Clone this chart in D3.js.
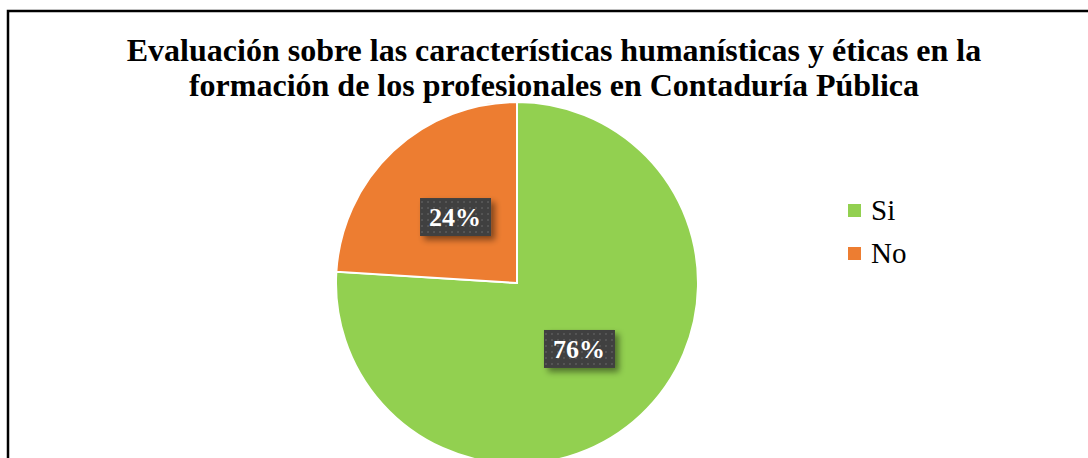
<!DOCTYPE html>
<html>
<head>
<meta charset="utf-8">
<script src="https://cdn.jsdelivr.net/npm/d3@7"></script>
<style>
  body { margin: 0; background: #fff; }
  svg { display: block; }
</style>
</head>
<body>
<div id="chart"></div>
<script>
var categories = ["Si", "No"];
var values = [76, 24];
var labels = ["76%", "24%"];
var titleLines = [
  "Evaluación sobre las características humanísticas y éticas en la",
  "formación de los profesionales en Contaduría Pública"
];

var width = 1088, height = 458;
var cx = 517, cy = 283, radius = 181;
var serif = "'Liberation Serif', 'Times New Roman', serif";

var color = d3.scaleOrdinal()
  .domain(categories)
  .range(["#92D050", "#ED7D31"]);

var svg = d3.select("#chart")
  .append("svg")
    .attr("width", width)
    .attr("height", height);

var defs = svg.append("defs");

// dotted texture used by the label boxes
var pat = defs.append("pattern")
  .attr("id", "dots")
  .attr("width", 6)
  .attr("height", 6)
  .attr("patternUnits", "userSpaceOnUse");
pat.append("rect").attr("width", 6).attr("height", 6).attr("fill", "#404040");
pat.append("rect").attr("x", 2).attr("y", 2).attr("width", 2).attr("height", 2).attr("fill", "#555");

var shadow = defs.append("filter")
  .attr("id", "shadow")
  .attr("x", "-30%").attr("y", "-30%")
  .attr("width", "170%").attr("height", "170%");
shadow.append("feDropShadow")
  .attr("dx", 4).attr("dy", 4)
  .attr("stdDeviation", 3)
  .attr("flood-color", "#000")
  .attr("flood-opacity", 0.45);

// outer frame
svg.append("rect")
  .attr("x", 8)
  .attr("y", 11)
  .attr("width", 1100)
  .attr("height", 470)
  .attr("fill", "none")
  .attr("stroke", "#000")
  .attr("stroke-width", 2.5);

// title
svg.append("g")
  .selectAll("text")
  .data(titleLines)
  .join("text")
    .attr("x", 554)
    .attr("y", function(d, i) { return 61 + i * 35; })
    .attr("text-anchor", "middle")
    .style("font-family", serif)
    .attr("font-weight", "bold")
    .attr("font-size", 32)
    .attr("fill", "#000")
    .text(function(d) { return d; });

var pie = d3.pie().sort(null).value(function(d) { return d; });
var arcs = pie(values);

var arc = d3.arc().innerRadius(0).outerRadius(radius);
var labelArc = d3.arc().innerRadius(radius * 0.5).outerRadius(radius * 0.5);

var g = svg.append("g")
  .attr("transform", "translate(" + cx + "," + cy + ")");

g.selectAll("path")
  .data(arcs)
  .join("path")
    .attr("d", arc)
    .attr("fill", function(d, i) { return color(categories[i]); })
    .attr("stroke", "#fff")
    .attr("stroke-width", 2);

var lab = g.selectAll("g.lab")
  .data(arcs)
  .join("g")
    .attr("class", "lab")
    .attr("transform", function(d) {
      var c = labelArc.centroid(d);
      return "translate(" + c[0] + "," + c[1] + ")";
    });

lab.append("rect")
  .attr("x", -35)
  .attr("y", -19)
  .attr("width", 71)
  .attr("height", 38)
  .attr("fill", "url(#dots)")
  .attr("filter", "url(#shadow)");

lab.append("text")
  .attr("text-anchor", "middle")
  .attr("y", 9)
  .style("font-family", serif)
  .attr("font-weight", "bold")
  .attr("font-size", 26)
  .attr("fill", "#fff")
  .text(function(d, i) { return labels[i]; });

// legend
var legend = svg.append("g")
  .attr("transform", "translate(848,204)");

var item = legend.selectAll("g")
  .data(categories)
  .join("g")
    .attr("transform", function(d, i) { return "translate(0," + (i * 43) + ")"; });

item.append("rect")
  .attr("width", 13)
  .attr("height", 13)
  .attr("fill", function(d) { return color(d); });

item.append("text")
  .attr("x", 23)
  .attr("y", 16)
  .style("font-family", serif)
  .attr("font-size", 29)
  .attr("fill", "#000")
  .text(function(d) { return d; });
</script>
</body>
</html>
